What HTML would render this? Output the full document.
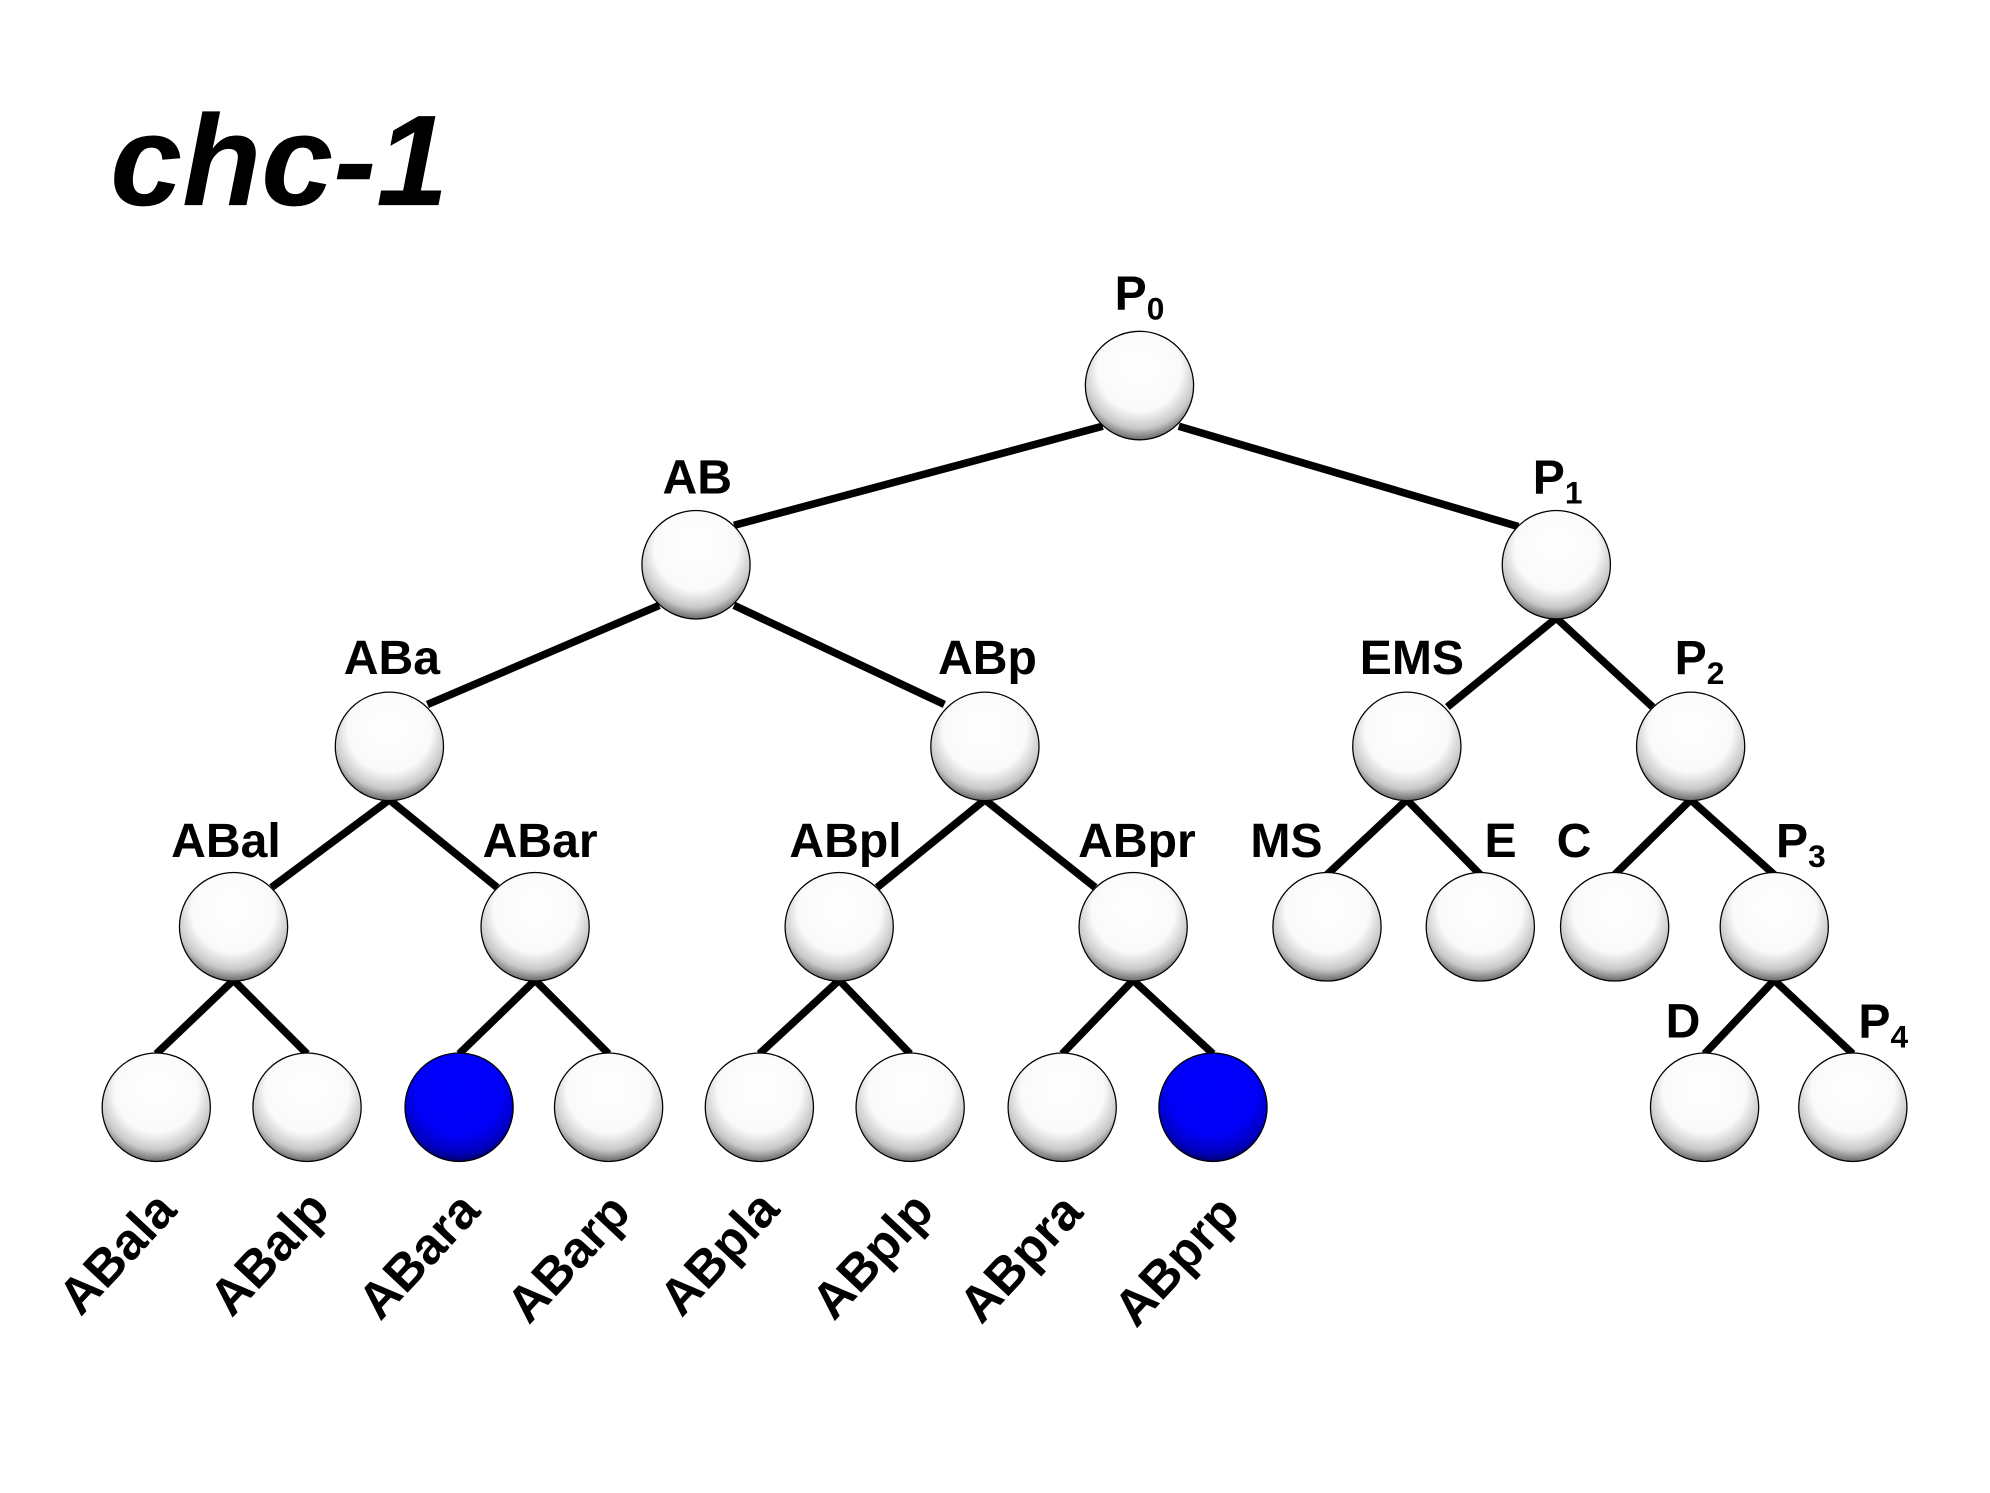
<!DOCTYPE html>
<html><head><meta charset="utf-8"><style>html,body{margin:0;padding:0;background:#fff}svg{display:block}</style></head>
<body>
<svg width="1990" height="1493" viewBox="0 0 1553 1165" xmlns="http://www.w3.org/2000/svg">
<defs>
<radialGradient id="w" cx="50%" cy="38%" r="62%" fx="50%" fy="30%">
<stop offset="0" stop-color="#fff"/><stop offset="0.62" stop-color="#fafafa"/><stop offset="0.85" stop-color="#c8c8c8"/><stop offset="1" stop-color="#6a6a6a"/></radialGradient>
<radialGradient id="b" cx="50%" cy="38%" r="62%" fx="50%" fy="30%">
<stop offset="0" stop-color="#0000ff"/><stop offset="0.65" stop-color="#0000f8"/><stop offset="0.88" stop-color="#0000c0"/><stop offset="1" stop-color="#000070"/></radialGradient>
</defs>
<text x="86" y="160" font-family="Liberation Sans, sans-serif" font-weight="bold" font-style="italic" font-size="101">chc-1</text>
<g transform="translate(2.3,0.4) scale(0.9888,0.9915)">
<g stroke="#000" stroke-width="6" fill="none">
<line x1="868" y1="335" x2="577" y2="413"/>
<line x1="928" y1="335" x2="1196" y2="414"/>
<line x1="518" y1="476" x2="335" y2="554"/>
<line x1="577" y1="476" x2="743" y2="554"/>
<line x1="1226" y1="486" x2="1140" y2="556"/>
<line x1="1226" y1="486" x2="1302" y2="556"/>
<line x1="305" y1="629" x2="212" y2="698"/>
<line x1="305" y1="629" x2="390" y2="698"/>
<line x1="775" y1="629" x2="690" y2="698"/>
<line x1="775" y1="629" x2="862" y2="698"/>
<line x1="1108" y1="629" x2="1045" y2="688"/>
<line x1="1108" y1="629" x2="1166" y2="688"/>
<line x1="1332" y1="629" x2="1272" y2="688"/>
<line x1="1332" y1="629" x2="1398" y2="688"/>
<line x1="182" y1="771" x2="121" y2="829"/>
<line x1="182" y1="771" x2="240" y2="829"/>
<line x1="420" y1="771" x2="360" y2="829"/>
<line x1="420" y1="771" x2="478" y2="829"/>
<line x1="660" y1="771" x2="597" y2="829"/>
<line x1="660" y1="771" x2="716" y2="829"/>
<line x1="892" y1="771" x2="836" y2="829"/>
<line x1="892" y1="771" x2="955" y2="829"/>
<line x1="1398" y1="771" x2="1343" y2="829"/>
<line x1="1398" y1="771" x2="1460" y2="829"/>
</g>
<g stroke="#000" stroke-width="1">
<circle cx="897" cy="303" r="42.7" fill="url(#w)"/>
<circle cx="547" cy="444" r="42.7" fill="url(#w)"/>
<circle cx="1226" cy="444" r="42.7" fill="url(#w)"/>
<circle cx="305" cy="587" r="42.7" fill="url(#w)"/>
<circle cx="775" cy="587" r="42.7" fill="url(#w)"/>
<circle cx="1108" cy="587" r="42.7" fill="url(#w)"/>
<circle cx="1332" cy="587" r="42.7" fill="url(#w)"/>
<circle cx="182" cy="729" r="42.7" fill="url(#w)"/>
<circle cx="420" cy="729" r="42.7" fill="url(#w)"/>
<circle cx="660" cy="729" r="42.7" fill="url(#w)"/>
<circle cx="892" cy="729" r="42.7" fill="url(#w)"/>
<circle cx="1045" cy="729" r="42.7" fill="url(#w)"/>
<circle cx="1166" cy="729" r="42.7" fill="url(#w)"/>
<circle cx="1272" cy="729" r="42.7" fill="url(#w)"/>
<circle cx="1398" cy="729" r="42.7" fill="url(#w)"/>
<circle cx="121" cy="871" r="42.7" fill="url(#w)"/>
<circle cx="240" cy="871" r="42.7" fill="url(#w)"/>
<circle cx="360" cy="871" r="42.7" fill="url(#b)"/>
<circle cx="478" cy="871" r="42.7" fill="url(#w)"/>
<circle cx="597" cy="871" r="42.7" fill="url(#w)"/>
<circle cx="716" cy="871" r="42.7" fill="url(#w)"/>
<circle cx="836" cy="871" r="42.7" fill="url(#w)"/>
<circle cx="955" cy="871" r="42.7" fill="url(#b)"/>
<circle cx="1343" cy="871" r="42.7" fill="url(#w)"/>
<circle cx="1460" cy="871" r="42.7" fill="url(#w)"/>
</g>
<g font-family="Liberation Sans, sans-serif" font-weight="bold" font-size="38" text-anchor="middle">
<text x="897" y="243">P<tspan font-size="25" dy="8">0</tspan></text>
<text x="548" y="388">AB</text>
<text x="1227" y="388">P<tspan font-size="25" dy="8">1</tspan></text>
<text x="307" y="530">ABa</text>
<text x="777" y="530">ABp</text>
<text x="1112" y="530">EMS</text>
<text x="1339" y="530">P<tspan font-size="25" dy="8">2</tspan></text>
<text x="176" y="674">ABal</text>
<text x="424" y="674">ABar</text>
<text x="665" y="674">ABpl</text>
<text x="895" y="674">ABpr</text>
<text x="1013" y="674">MS</text>
<text x="1182" y="674">E</text>
<text x="1240" y="674">C</text>
<text x="1419" y="674">P<tspan font-size="25" dy="8">3</tspan></text>
<text x="1326" y="816">D</text>
<text x="1484" y="816">P<tspan font-size="25" dy="8">4</tspan></text>
</g>
<g font-family="Liberation Sans, sans-serif" font-weight="bold" font-size="40" text-anchor="middle">
<text transform="translate(100,995) rotate(-47)">ABala</text>
<text transform="translate(220,995) rotate(-47)">ABalp</text>
<text transform="translate(338,997) rotate(-47)">ABara</text>
<text transform="translate(456,999) rotate(-47)">ABarp</text>
<text transform="translate(575,995) rotate(-47)">ABpla</text>
<text transform="translate(696,997) rotate(-47)">ABplp</text>
<text transform="translate(813,999) rotate(-47)">ABpra</text>
<text transform="translate(936,1001) rotate(-47)">ABprp</text>
</g>
</g>
</svg>
</body></html>
